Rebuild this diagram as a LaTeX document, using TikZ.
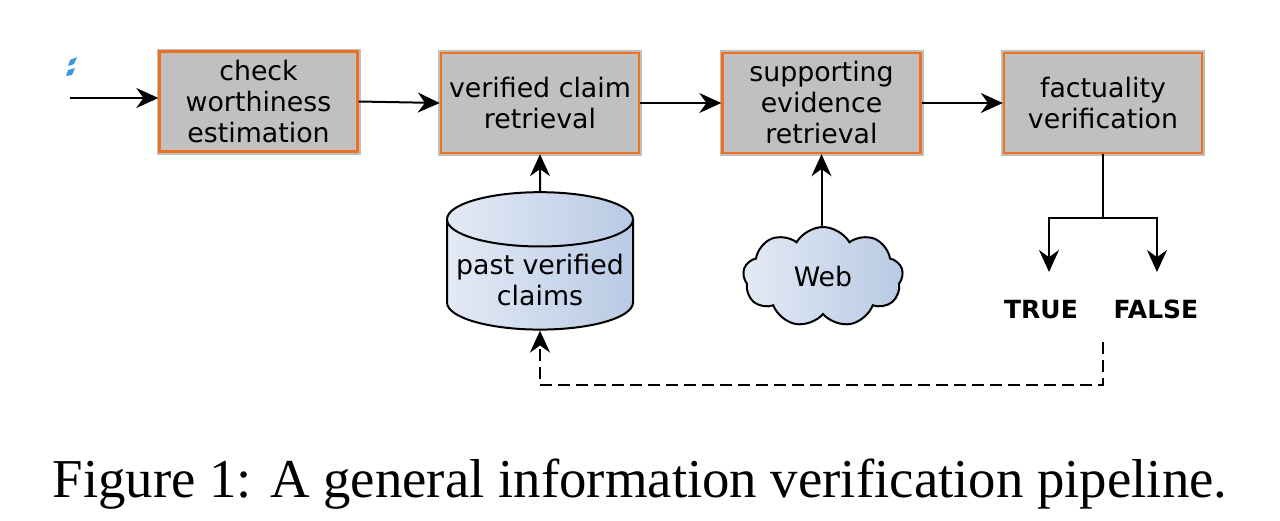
\documentclass[tikz,border=0pt]{standalone}
\usepackage{fontspec}
\setmainfont{Liberation Serif}
\setsansfont{DejaVu Sans}
\usetikzlibrary{shapes.symbols,shapes.geometric,arrows.meta}
\definecolor{boxgray}{HTML}{C0C0C0}
\definecolor{boxorange}{HTML}{EE7020}
\definecolor{lbl}{HTML}{E4EAF5}
\definecolor{dbl}{HTML}{B8CAE4}
\begin{document}
\begin{tikzpicture}[x=0.5pt,y=-0.5pt,
  stepbox/.style={draw=boxorange,line width=1.2pt,fill=boxgray,minimum width=99pt,minimum height=50pt,
    align=center,font=\sffamily\fontsize{13.4}{15.5}\selectfont,
    preaction={draw=gray!50,line width=3pt,rounded corners=1.5pt}},
  arr/.style={-{Stealth[length=11pt,width=10pt]},line width=1pt},
  shade/.style={left color=lbl,right color=dbl,draw,line width=1pt,font=\sffamily\fontsize{13.4}{15.5}\selectfont,align=center},
  lab/.style={font=\sffamily\bfseries\fontsize{12.5}{14}\selectfont,anchor=base}]
\useasboundingbox (0,0) rectangle (1280,520);
\node[stepbox] (b1) at (258.5,101.5) {check\\worthiness\\estimation};
\node[stepbox] (b2) at (540,103) {verified claim\\retrieval};
\node[stepbox] (b3) at (821.5,103) {supporting\\evidence\\retrieval};
\node[stepbox] (b4) at (1103,103) {factuality\\verification};
\node[shade,cylinder,shape border rotate=90,aspect=0.3,minimum width=93pt,minimum height=56pt] (db) at (540,280) {past verified\\claims};
\node[shade,cloud,cloud puffs=9,cloud puff arc=120,aspect=1.5,minimum width=80pt,minimum height=50pt,inner sep=0pt] (web) at (823,277) {Web};
\node[lab] (t) at (1041,318) {TRUE};
\node[lab] (f) at (1156,318) {FALSE};
\coordinate (in) at (70,98);
\fill[cyan!70!blue!80] (70,60) -- (77,57) -- (74,64) -- (68,66) -- cycle (68,70) -- (75,68) -- (72,75) -- (66,76) -- cycle;
\draw[arr] (in) -- (b1.west|-in);
\draw[arr] (b1.east) -- (b2.west);
\draw[arr] (b2.east) -- (b3.west);
\draw[arr] (b3.east) -- (b4.west);
\draw[arr] (db.north) -- (b2.south);
\draw[arr] (web.north-|b3.south) -- (b3.south);
\coordinate (br) at (1103,218);
\draw[line width=1pt] (b4.south) -- (br);
\draw[arr] (br) -| (1049,272);
\draw[arr] (br) -| (1157,272);
\coordinate (ds) at (1103,342);
\draw[arr,dash pattern=on 6pt off 3pt] (ds) -- (1103,385) -| (db.south);
\node[font=\fontsize{27.4}{32}\selectfont] (cap) at (640,484) {Figure 1: A general information verification pipeline.};
\end{tikzpicture}
\end{document}
